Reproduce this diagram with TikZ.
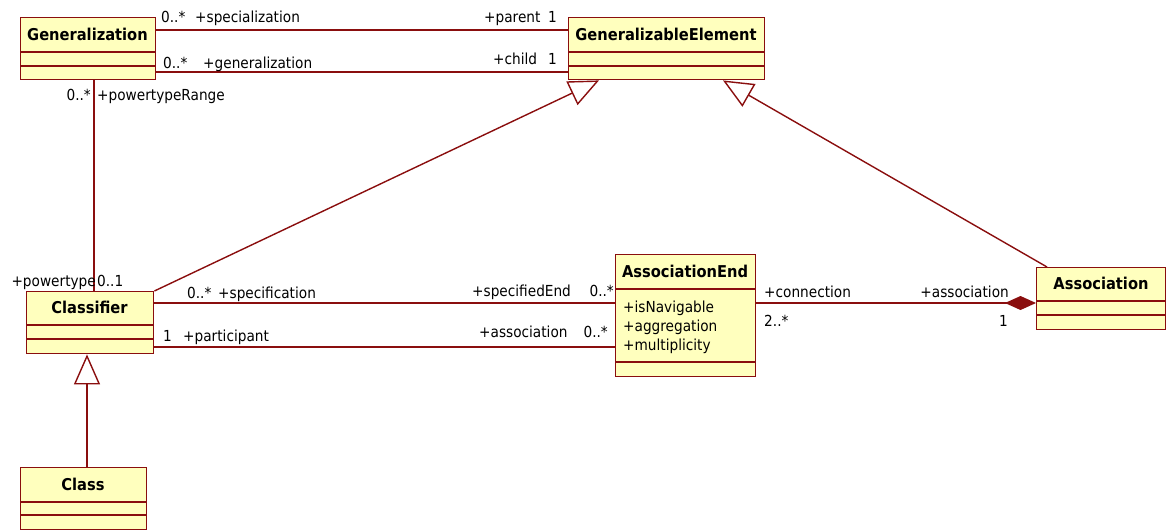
\documentclass[tikz,border=0pt]{standalone}
\usepackage{fontspec}
\setmainfont{DejaVu Sans Condensed}
\usetikzlibrary{arrows.meta,calc}
\definecolor{umlline}{RGB}{138,14,14}
\definecolor{umlfill}{RGB}{255,255,190}
\tikzset{
  cls/.style={draw=umlline, fill=umlfill, line width=1.4pt, rectangle, inner sep=0pt, anchor=north west},
  title/.style={font=\fontsize{16.3}{18}\selectfont\bfseries, inner sep=0pt, anchor=base},
  lbl/.style={font=\fontsize{15.2}{17}\selectfont, inner sep=0pt},
  lw/.style={lbl, anchor=base west},
  le/.style={lbl, anchor=base east},
  conn/.style={draw=umlline, line width=1.4pt},
  inh/.style={conn, -{Triangle[open, length=30pt, width=26pt, fill=white]}},
  comp/.style={conn, -{Diamond[length=31pt, width=14pt, fill=umlline]}},
  sepline/.style={draw=umlline, line width=1.4pt},
}
\newcommand{\umlseps}[3]{%
  \draw[sepline] ($(#1.north west)+(0,#2)$) -- ($(#1.north east)+(0,#2)$);
  \draw[sepline] ($(#1.north west)+(0,#3)$) -- ($(#1.north east)+(0,#3)$);}
\begin{document}
\begin{tikzpicture}[x=1pt, y=-1pt]
\useasboundingbox (0,0) rectangle (1166,530);

% classes
\node[cls, minimum width=135pt, minimum height=62pt] (gen) at (20,17) {};
\umlseps{gen}{35}{49}
\node[title] (genT) at (87.5,40) {Generalization};

\node[cls, minimum width=196pt, minimum height=62pt] (ge) at (568,17) {};
\umlseps{ge}{35}{49}
\node[title] (geT) at (666,40) {GeneralizableElement};

\node[cls, minimum width=127pt, minimum height=62pt] (clsf) at (26,291) {};
\umlseps{clsf}{34}{48}
\node[title] (clsfT) at (89.5,313) {Classifier};

\node[cls, minimum width=140pt, minimum height=122pt] (ae) at (615,254) {};
\umlseps{ae}{35}{108}
\node[title] (aeT) at (685,277) {AssociationEnd};
\node[lw] (aeA1) at (623,312) {+isNavigable};
\node[lw] (aeA2) at (623,331) {+aggregation};
\node[lw] (aeA3) at (623,350) {+multiplicity};

\node[cls, minimum width=129pt, minimum height=62pt] (assoc) at (1036,267) {};
\umlseps{assoc}{34}{48}
\node[title] (assocT) at (1101,289) {Association};

\node[cls, minimum width=126pt, minimum height=62pt] (class) at (20,467) {};
\umlseps{class}{35}{48}
\node[title] (classT) at (83,490) {Class};

% level coordinates
\coordinate (ySpec) at (0,30);
\coordinate (yGen) at (0,72);
\coordinate (ySpecif) at (0,303);
\coordinate (yPart) at (0,347);
\coordinate (xPT) at (94,0);
\coordinate (xGE1) at (599,0);
\coordinate (xGE2) at (723,0);
\coordinate (xAs) at (1047,0);
\coordinate (xCl) at (87,0);

% connectors
\draw[conn] (gen.east |- ySpec) -- (ge.west |- ySpec);
\draw[conn] (gen.east |- yGen) -- (ge.west |- yGen);
\draw[conn] (gen.south -| xPT) -- (clsf.north -| xPT);
\draw[inh] (clsf.north east) -- (ge.south -| xGE1);
\draw[inh] (assoc.north -| xAs) -- (ge.south -| xGE2);
\draw[conn] (clsf.east |- ySpecif) -- (ae.west |- ySpecif);
\draw[conn] (clsf.east |- yPart) -- (ae.west |- yPart);
\draw[comp] (ae.east |- ySpecif) -- (assoc.west |- ySpecif);
\draw[inh] (class.north -| xCl) -- (clsf.south -| xCl);

% labels
\node[lw] (l1) at (161,22) {0..*};
\node[lw] (l2) at (195,22) {+specialization};
\node[lw] (l3) at (163,68) {0..*};
\node[lw] (l4) at (203,68) {+generalization};
\node[lw] (l5) at (484,22) {+parent};
\node[le] (l6) at (557,22) {1};
\node[lw] (l7) at (493,64) {+child};
\node[le] (l8) at (557,64) {1};
\node[le] (l9) at (91,100) {0..*};
\node[lw] (l10) at (97,100) {+powertypeRange};
\node[le] (l11) at (96,286) {+powertype};
\node[lw] (l12) at (97,286) {0..1};
\node[lw] (l13) at (187,298) {0..*};
\node[lw] (l14) at (218,298) {+specification};
\node[lw] (l15) at (163,341) {1};
\node[lw] (l16) at (183,341) {+participant};
\node[lw] (l17) at (472,296) {+specifiedEnd};
\node[le] (l18) at (614,296) {0..*};
\node[lw] (l19) at (479,337) {+association};
\node[le] (l20) at (608,337) {0..*};
\node[lw] (l21) at (764,297) {+connection};
\node[le] (l22) at (1009,297) {+association};
\node[lw] (l23) at (764,326) {2..*};
\node[le] (l24) at (1008,326) {1};
\end{tikzpicture}
\end{document}
